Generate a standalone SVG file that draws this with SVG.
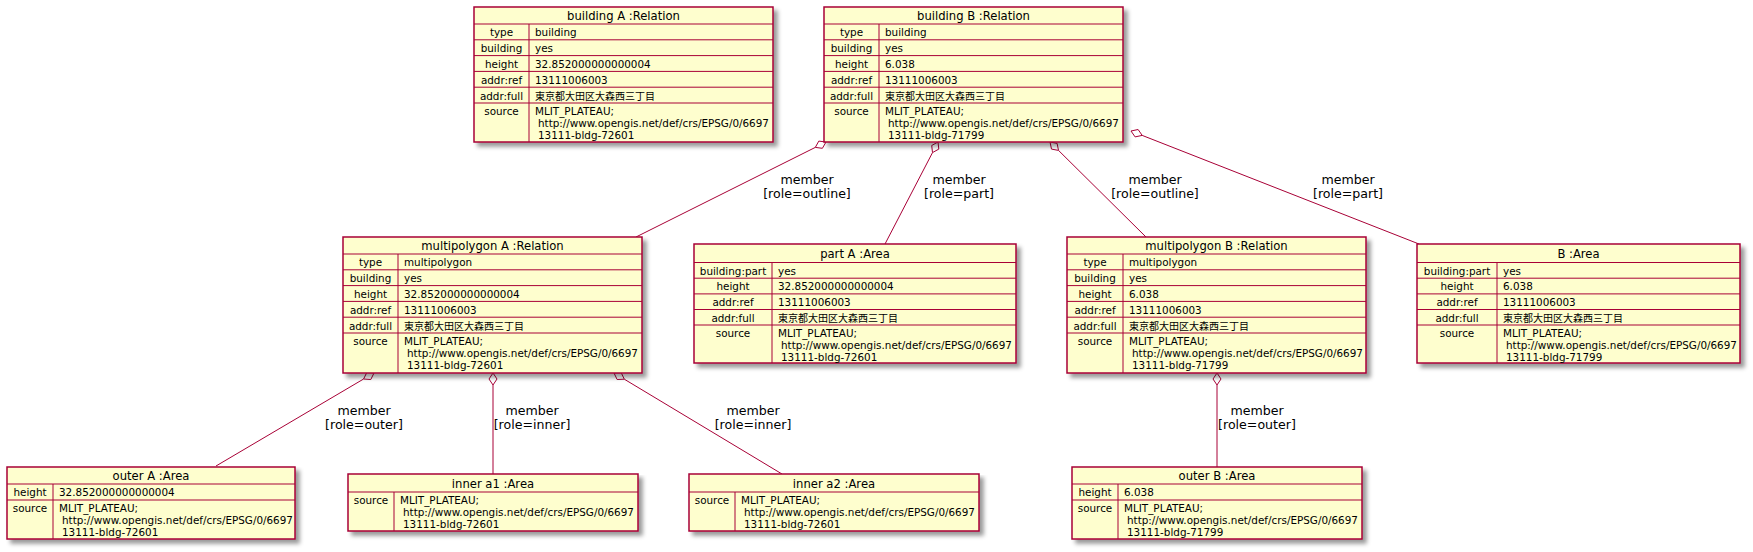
<svg xmlns="http://www.w3.org/2000/svg" width="1753" height="552" viewBox="0 0 1753 552">
<defs>
<filter id="sh" x="-5%" y="-5%" width="115%" height="130%">
<feGaussianBlur in="SourceAlpha" stdDeviation="2" result="b"/>
<feColorMatrix in="b" type="matrix" values="0 0 0 0 0 0 0 0 0 0 0 0 0 0 0 0 0 0 .4 0" result="b2"/>
<feOffset in="b2" dx="4" dy="4" result="b3"/>
<feBlend in="SourceGraphic" in2="b3" mode="normal"/>
</filter>
<style>
.box{fill:#FEFECE;stroke:#A80036;stroke-width:1.5;filter:url(#sh)}
.sep{stroke:#A80036;stroke-width:1;fill:none}
text{font-family:"DejaVu Sans","Noto Sans CJK JP",sans-serif;fill:#000000}
.t{font-size:11.6px;text-anchor:middle}
.k{font-size:10.4px;text-anchor:middle}
.v{font-size:10.4px}
.j{font-size:10px;font-family:"Noto Sans CJK JP","DejaVu Sans",sans-serif}
.e{stroke:#A80036;stroke-width:1;fill:none}
.d{stroke:#A80036;stroke-width:1;fill:#FFFFFF}
.l{font-size:12.6px;text-anchor:middle}
</style>
</defs>
<rect width="1753" height="552" fill="#FFFFFF"/>

<g id="edges">
<line class="e" x1="815.3" y1="147.4" x2="636" y2="237"/>
<polygon class="d" points="826,142 818.8,141.1 815.3,147.4 822.4,148.3"/>
<line class="e" x1="932.5" y1="152.6" x2="885" y2="244"/>
<polygon class="d" points="938,142 931.7,145.5 932.5,152.6 938.8,149.1"/>
<line class="e" x1="1058.5" y1="150.4" x2="1146" y2="237"/>
<polygon class="d" points="1050,142 1051.5,149.1 1058.5,150.4 1057.1,143.4"/>
<line class="e" x1="1142.2" y1="135.4" x2="1419" y2="244"/>
<polygon class="d" points="1131,131 1135.1,136.9 1142.2,135.4 1138.1,129.5"/>
<line class="e" x1="363.6" y1="379" x2="216" y2="466"/>
<polygon class="d" points="374,373 366.8,372.5 363.6,379 370.8,379.5"/>
<line class="e" x1="493" y1="385" x2="493" y2="474"/>
<polygon class="d" points="493,373 489,379 493,385 497,379"/>
<line class="e" x1="624.3" y1="379.2" x2="782" y2="474"/>
<polygon class="d" points="614,373 617.1,379.5 624.3,379.2 621.2,372.7"/>
<line class="e" x1="1217" y1="385" x2="1217" y2="467"/>
<polygon class="d" points="1217,373 1213,379 1217,385 1221,379"/>
<text class="l" x="807" y="184">member</text>
<text class="l" x="807" y="198">[role=outline]</text>
<text class="l" x="959" y="184">member</text>
<text class="l" x="959" y="198">[role=part]</text>
<text class="l" x="1155" y="184">member</text>
<text class="l" x="1155" y="198">[role=outline]</text>
<text class="l" x="1348" y="184">member</text>
<text class="l" x="1348" y="198">[role=part]</text>
<text class="l" x="364" y="415">member</text>
<text class="l" x="364" y="429">[role=outer]</text>
<text class="l" x="532" y="415">member</text>
<text class="l" x="532" y="429">[role=inner]</text>
<text class="l" x="753" y="415">member</text>
<text class="l" x="753" y="429">[role=inner]</text>
<text class="l" x="1257" y="415">member</text>
<text class="l" x="1257" y="429">[role=outer]</text>
</g>

<g id="building_A" transform="translate(474,7)">
<rect class="box" x="0" y="0" width="299" height="135"/>
<path class="sep" d="M0 17H299M0 32.8H299M0 48.6H299M0 64.4H299M0 80.2H299M0 96H299M55 17V135"/>
<text class="t" x="149.5" y="13">building A :Relation</text>
<text class="k" x="27.5" y="29.3">type</text>
<text class="k" x="27.5" y="45.1">building</text>
<text class="k" x="27.5" y="60.9">height</text>
<text class="k" x="27.5" y="76.7">addr:ref</text>
<text class="k" x="27.5" y="92.5">addr:full</text>
<text class="k" x="27.5" y="108">source</text>
<text class="v" x="61" y="29.3">building</text>
<text class="v" x="61" y="45.1">yes</text>
<text class="v" x="61" y="60.9">32.852000000000004</text>
<text class="v" x="61" y="76.7">13111006003</text>
<text class="v j" x="61" y="92.5">東京都大田区大森西三丁目</text>
<text class="v" x="61" y="108">MLIT_PLATEAU;</text>
<text class="v" x="64" y="120">http://www.opengis.net/def/crs/EPSG/0/6697</text>
<text class="v" x="64" y="132">13111-bldg-72601</text>
</g>

<g id="building_B" transform="translate(824,7)">
<rect class="box" x="0" y="0" width="299" height="135"/>
<path class="sep" d="M0 17H299M0 32.8H299M0 48.6H299M0 64.4H299M0 80.2H299M0 96H299M55 17V135"/>
<text class="t" x="149.5" y="13">building B :Relation</text>
<text class="k" x="27.5" y="29.3">type</text>
<text class="k" x="27.5" y="45.1">building</text>
<text class="k" x="27.5" y="60.9">height</text>
<text class="k" x="27.5" y="76.7">addr:ref</text>
<text class="k" x="27.5" y="92.5">addr:full</text>
<text class="k" x="27.5" y="108">source</text>
<text class="v" x="61" y="29.3">building</text>
<text class="v" x="61" y="45.1">yes</text>
<text class="v" x="61" y="60.9">6.038</text>
<text class="v" x="61" y="76.7">13111006003</text>
<text class="v j" x="61" y="92.5">東京都大田区大森西三丁目</text>
<text class="v" x="61" y="108">MLIT_PLATEAU;</text>
<text class="v" x="64" y="120">http://www.opengis.net/def/crs/EPSG/0/6697</text>
<text class="v" x="64" y="132">13111-bldg-71799</text>
</g>

<g id="multipolygon_A" transform="translate(343,237)">
<rect class="box" x="0" y="0" width="299" height="136"/>
<path class="sep" d="M0 17H299M0 32.8H299M0 48.6H299M0 64.4H299M0 80.2H299M0 96H299M55 17V136"/>
<text class="t" x="149.5" y="13">multipolygon A :Relation</text>
<text class="k" x="27.5" y="29.3">type</text>
<text class="k" x="27.5" y="45.1">building</text>
<text class="k" x="27.5" y="60.9">height</text>
<text class="k" x="27.5" y="76.7">addr:ref</text>
<text class="k" x="27.5" y="92.5">addr:full</text>
<text class="k" x="27.5" y="108">source</text>
<text class="v" x="61" y="29.3">multipolygon</text>
<text class="v" x="61" y="45.1">yes</text>
<text class="v" x="61" y="60.9">32.852000000000004</text>
<text class="v" x="61" y="76.7">13111006003</text>
<text class="v j" x="61" y="92.5">東京都大田区大森西三丁目</text>
<text class="v" x="61" y="108">MLIT_PLATEAU;</text>
<text class="v" x="64" y="120">http://www.opengis.net/def/crs/EPSG/0/6697</text>
<text class="v" x="64" y="132">13111-bldg-72601</text>
</g>

<g id="multipolygon_B" transform="translate(1067,237)">
<rect class="box" x="0" y="0" width="299" height="136"/>
<path class="sep" d="M0 17H299M0 32.8H299M0 48.6H299M0 64.4H299M0 80.2H299M0 96H299M56 17V136"/>
<text class="t" x="149.5" y="13">multipolygon B :Relation</text>
<text class="k" x="28" y="29.3">type</text>
<text class="k" x="28" y="45.1">building</text>
<text class="k" x="28" y="60.9">height</text>
<text class="k" x="28" y="76.7">addr:ref</text>
<text class="k" x="28" y="92.5">addr:full</text>
<text class="k" x="28" y="108">source</text>
<text class="v" x="62" y="29.3">multipolygon</text>
<text class="v" x="62" y="45.1">yes</text>
<text class="v" x="62" y="60.9">6.038</text>
<text class="v" x="62" y="76.7">13111006003</text>
<text class="v j" x="62" y="92.5">東京都大田区大森西三丁目</text>
<text class="v" x="62" y="108">MLIT_PLATEAU;</text>
<text class="v" x="65" y="120">http://www.opengis.net/def/crs/EPSG/0/6697</text>
<text class="v" x="65" y="132">13111-bldg-71799</text>
</g>

<g id="part_A" transform="translate(694,244)">
<rect class="box" x="0" y="0" width="322" height="119"/>
<path class="sep" d="M0 18.5H322M0 34.2H322M0 49.9H322M0 65.5H322M0 81H322M78 18.5V119"/>
<text class="t" x="161" y="14">part A :Area</text>
<text class="k" x="39" y="30.5">building:part</text>
<text class="k" x="39" y="46.2">height</text>
<text class="k" x="39" y="61.9">addr:ref</text>
<text class="k" x="39" y="77.5">addr:full</text>
<text class="k" x="39" y="93">source</text>
<text class="v" x="84" y="30.5">yes</text>
<text class="v" x="84" y="46.2">32.852000000000004</text>
<text class="v" x="84" y="61.9">13111006003</text>
<text class="v j" x="84" y="77.5">東京都大田区大森西三丁目</text>
<text class="v" x="84" y="93">MLIT_PLATEAU;</text>
<text class="v" x="87" y="105">http://www.opengis.net/def/crs/EPSG/0/6697</text>
<text class="v" x="87" y="117">13111-bldg-72601</text>
</g>

<g id="B_area" transform="translate(1417,244)">
<rect class="box" x="0" y="0" width="323" height="119"/>
<path class="sep" d="M0 18.5H323M0 34.2H323M0 49.9H323M0 65.5H323M0 81H323M80 18.5V119"/>
<text class="t" x="161.5" y="14">B :Area</text>
<text class="k" x="40" y="30.5">building:part</text>
<text class="k" x="40" y="46.2">height</text>
<text class="k" x="40" y="61.9">addr:ref</text>
<text class="k" x="40" y="77.5">addr:full</text>
<text class="k" x="40" y="93">source</text>
<text class="v" x="86" y="30.5">yes</text>
<text class="v" x="86" y="46.2">6.038</text>
<text class="v" x="86" y="61.9">13111006003</text>
<text class="v j" x="86" y="77.5">東京都大田区大森西三丁目</text>
<text class="v" x="86" y="93">MLIT_PLATEAU;</text>
<text class="v" x="89" y="105">http://www.opengis.net/def/crs/EPSG/0/6697</text>
<text class="v" x="89" y="117">13111-bldg-71799</text>
</g>

<g id="outer_A" transform="translate(7,467)">
<rect class="box" x="0" y="0" width="288" height="72"/>
<path class="sep" d="M0 17H288M0 33H288M46 17V72"/>
<text class="t" x="144" y="13">outer A :Area</text>
<text class="k" x="23" y="29">height</text>
<text class="k" x="23" y="45">source</text>
<text class="v" x="52" y="29">32.852000000000004</text>
<text class="v" x="52" y="45">MLIT_PLATEAU;</text>
<text class="v" x="55" y="57">http://www.opengis.net/def/crs/EPSG/0/6697</text>
<text class="v" x="55" y="69">13111-bldg-72601</text>
</g>

<g id="inner_a1" transform="translate(348,474)">
<rect class="box" x="0" y="0" width="290" height="57"/>
<path class="sep" d="M0 18H290M46 18V57"/>
<text class="t" x="145" y="13.5">inner a1 :Area</text>
<text class="k" x="23" y="30">source</text>
<text class="v" x="52" y="30">MLIT_PLATEAU;</text>
<text class="v" x="55" y="42">http://www.opengis.net/def/crs/EPSG/0/6697</text>
<text class="v" x="55" y="54">13111-bldg-72601</text>
</g>

<g id="inner_a2" transform="translate(689,474)">
<rect class="box" x="0" y="0" width="290" height="57"/>
<path class="sep" d="M0 18H290M46 18V57"/>
<text class="t" x="145" y="13.5">inner a2 :Area</text>
<text class="k" x="23" y="30">source</text>
<text class="v" x="52" y="30">MLIT_PLATEAU;</text>
<text class="v" x="55" y="42">http://www.opengis.net/def/crs/EPSG/0/6697</text>
<text class="v" x="55" y="54">13111-bldg-72601</text>
</g>

<g id="outer_B" transform="translate(1072,467)">
<rect class="box" x="0" y="0" width="290" height="72"/>
<path class="sep" d="M0 17H290M0 33H290M46 17V72"/>
<text class="t" x="145" y="13">outer B :Area</text>
<text class="k" x="23" y="29">height</text>
<text class="k" x="23" y="45">source</text>
<text class="v" x="52" y="29">6.038</text>
<text class="v" x="52" y="45">MLIT_PLATEAU;</text>
<text class="v" x="55" y="57">http://www.opengis.net/def/crs/EPSG/0/6697</text>
<text class="v" x="55" y="69">13111-bldg-71799</text>
</g>
</svg>
